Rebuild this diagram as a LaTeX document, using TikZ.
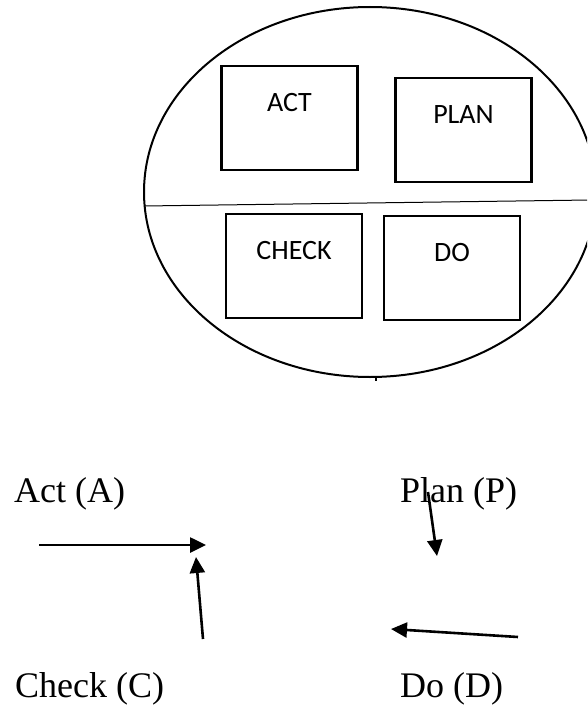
\documentclass[tikz,border=0pt]{standalone}
\usepackage{fontspec}
\setmainfont{Liberation Serif}
\newfontfamily\boxfont{Carlito}
\usetikzlibrary{arrows.meta,positioning}

\begin{document}
\begin{tikzpicture}[x=1pt,y=-1pt,
  box/.style={draw,line width=2.4pt,minimum width=136pt,minimum height=104pt,inner sep=0pt},
  tag/.style={inner sep=0pt,anchor=base,font=\boxfont\fontsize{28}{32}\selectfont},
  phase/.style={inner sep=0pt,anchor=base west,font=\fontsize{36}{42}\selectfont},
  flow/.style={line width=2.6pt,-{Triangle[length=16pt,width=15pt]}}]
  \useasboundingbox (0,0) rectangle (587,706);
  \clip (0,0) rectangle (587,706);

  % outer ellipse, divider and the small tick under it
  \draw[line width=2pt] (370,192) ellipse [x radius=226pt, y radius=185pt];
  \draw[line width=1pt] (144,206) -- (590,200);
  \draw[line width=1.5pt] (376,377) -- (376,381);

  % the four boxes
  \foreach \n/\x/\y/\t in {act/289.5/118/ACT, plan/463.5/130/PLAN,
                            check/294/266/CHECK, do/452/268/DO}{
    \node[box] (\n) at (\x,\y) {};
    \node[tag] (\n-t) at ([yshift=-46.5pt]\n.north) {\t};
  }

  % phase names
  \node[phase] (act-n)   at (14,502)  {Act (A)};
  \node[phase] (plan-n)  at (400,502) {Plan (P)};
  \node[phase] (check-n) at (15,697)  {Check (C)};
  \node[phase] (do-n)    at (400,697) {Do (D)};

  % arrow ends
  \coordinate (a0) at (39,545);   \coordinate (a1) at (206,545);
  \coordinate (c0) at (203,639);  \coordinate (c1) at (196,557);
  \coordinate (p0) at (428,492);  \coordinate (p1) at (437,556);
  \coordinate (d0) at (518,637);  \coordinate (d1) at (391,629);

  \draw[flow] (a0) -- (a1);
  \draw[flow] (c0) -- (c1);
  \draw[flow] (p0) -- (p1);
  \draw[flow] (d0) -- (d1);
\end{tikzpicture}
\end{document}
